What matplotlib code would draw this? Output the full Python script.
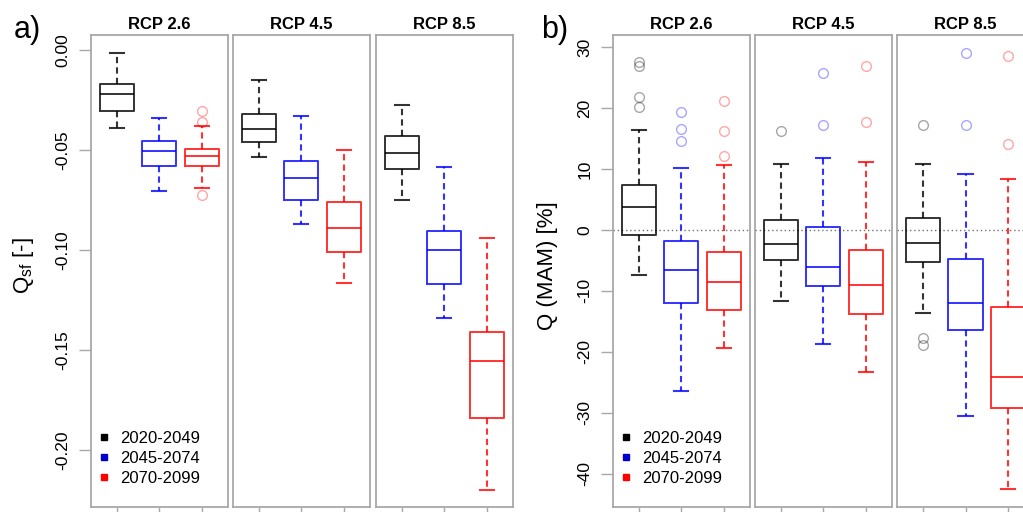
import matplotlib
matplotlib.use('Agg')
import matplotlib.pyplot as plt
from matplotlib.lines import Line2D

plt.rcParams['font.family'] = ['Liberation Sans', 'DejaVu Sans']
plt.rcParams['mathtext.default'] = 'regular'

# scenarios and periods
rcps = ['RCP 2.6', 'RCP 4.5', 'RCP 8.5']
periods = ['2020-2049', '2045-2074', '2070-2099']
colors = ['#000000', '#0000ff', '#ff0000']
legend_colors = ['#000000', '#0000cc', '#ff0000']

# a) Q_sf  -- one row per RCP, one value per period
qsf_whislo = [[-0.0392, -0.0705, -0.0688], [-0.0533, -0.0868, -0.1165], [-0.0748, -0.1342, -0.2198]]
qsf_q1 = [[-0.0303, -0.0578, -0.0578], [-0.0462, -0.0750, -0.1008], [-0.0595, -0.1168, -0.1842]]
qsf_med = [[-0.0222, -0.0505, -0.0532], [-0.0395, -0.0638, -0.0892], [-0.0513, -0.0998, -0.1555]]
qsf_q3 = [[-0.0168, -0.0455, -0.0495], [-0.0322, -0.0553, -0.0762], [-0.0428, -0.0903, -0.1410]]
qsf_whishi = [[-0.0013, -0.0342, -0.0380], [-0.0152, -0.0328, -0.0502], [-0.0277, -0.0585, -0.0938]]
qsf_fliers = [[[], [], [-0.0305, -0.0362, -0.0725]],
              [[], [], []],
              [[], [], []]]

# b) Q (MAM) [%]
mam_whislo = [[-7.4, -26.4, -19.4], [-11.6, -18.8, -23.4], [-13.6, -30.6, -42.6]]
mam_q1 = [[-0.8, -12.0, -13.2], [-5.0, -9.2, -13.8], [-5.2, -16.5, -29.2]]
mam_med = [[3.8, -6.6, -8.5], [-2.3, -6.1, -9.1], [-2.2, -12.0, -24.2]]
mam_q3 = [[7.3, -1.8, -3.6], [1.6, 0.5, -3.3], [2.0, -4.7, -12.6]]
mam_whishi = [[16.4, 10.1, 10.6], [10.8, 11.8, 11.1], [10.9, 9.2, 8.3]]
mam_fliers = [[[27.5, 26.9, 21.8, 20.2], [19.3, 16.5, 14.6], [21.1, 16.3, 12.2]],
              [[16.3], [25.8, 17.3], [26.9, 17.7]],
              [[17.3, -17.7, -18.9], [29.0, 17.2], [28.6, 14.1]]]

qsf_ticks = [-0.20, -0.15, -0.10, -0.05, 0.00]
mam_ticks = [-40, -30, -20, -10, 0, 10, 20, 30]

W, H = 1023.0, 512.0
GRAY = '#a8a8a8'


def panel_group(fig, lefts, whislo, q1, med, q3, whishi, fliers, ylim, ticks, ticklabels,
                ylabel, ylabel_x, letter, letter_x, zero_line=False):
    bottom, top = 507.0, 35.0
    width = 137.0
    for i, left in enumerate(lefts):
        ax = fig.add_axes([left / W, 1 - bottom / H, width / W, (bottom - top) / H])
        stats = []
        for k in range(3):
            stats.append(dict(med=med[i][k], q1=q1[i][k], q3=q3[i][k],
                              whislo=whislo[i][k], whishi=whishi[i][k],
                              fliers=fliers[i][k]))
        if zero_line:
            ax.axhline(0, color='#707070', lw=1, ls=(0, (1, 2)), zorder=0)
        bp = ax.bxp(stats, positions=[1, 2, 3], widths=0.8, capwidths=0.33,
                    showfliers=True)
        for k in range(3):
            c = colors[k]
            bp['boxes'][k].set(color=c, lw=1.4, alpha=0.8)
            bp['medians'][k].set(color=c, lw=1.4, alpha=0.8)
            for w in bp['whiskers'][2 * k:2 * k + 2]:
                w.set(color=c, lw=1.5, alpha=0.8, ls=(0, (3, 2)))
            for cp in bp['caps'][2 * k:2 * k + 2]:
                cp.set(color=c, lw=1.5, alpha=0.8)
            bp['fliers'][k].set(marker='o', markersize=7, markerfacecolor='none',
                                markeredgecolor=c, alpha=0.35, markeredgewidth=1)
        ax.set_xlim(0.39, 3.61)
        ax.set_ylim(*ylim)
        for s in ax.spines.values():
            s.set_color(GRAY)
            s.set_linewidth(1.3)
        ax.set_xticks([1, 2, 3], labels=['', '', ''])
        ax.tick_params(axis='x', length=8.5, width=1, color=GRAY, direction='out')
        ax.set_title(rcps[i], fontsize=12, fontweight='bold', pad=4)
        if i == 0:
            ax.set_yticks(ticks, labels=ticklabels)
            ax.tick_params(axis='y', length=8.5, width=1, color=GRAY, pad=6,
                           labelsize=12.5, labelrotation=90)
            for lab in ax.get_yticklabels():
                lab.set_va('center')
            handles = [Line2D([], [], ls='none', marker='s', markersize=5,
                              color=legend_colors[k]) for k in range(3)]
            ax.legend(handles, periods, loc='lower left', bbox_to_anchor=(0.06, 0.045),
                      frameon=False, fontsize=12, handlelength=0.6, handletextpad=0.7,
                      labelspacing=0.3, borderpad=0, borderaxespad=0)
        else:
            ax.set_yticks([])
    fig.text(ylabel_x / W, 1 - 266 / H, ylabel, rotation=90, ha='center', va='center',
             fontsize=16)
    fig.text(letter_x / W, 1 - 38 / H, letter, ha='left', va='baseline', fontsize=22)


fig = plt.figure(figsize=(10.23, 5.12), dpi=100)

panel_group(fig, [90.7, 232.7, 375.7], qsf_whislo, qsf_q1, qsf_med, qsf_q3, qsf_whishi,
            qsf_fliers, (-0.2285, 0.0075), qsf_ticks, ['%.2f' % t for t in qsf_ticks],
            r'Q$_{sf}$ [-]', 23, 'a)', 14)
panel_group(fig, [612.7, 754.7, 897.0], mam_whislo, mam_q1, mam_med, mam_q3, mam_whishi,
            mam_fliers, (-45.5, 32.0), mam_ticks, [str(t) for t in mam_ticks],
            'Q (MAM) [%]', 547, 'b)', 541, zero_line=True)

fig.savefig('out.png', dpi=100)
